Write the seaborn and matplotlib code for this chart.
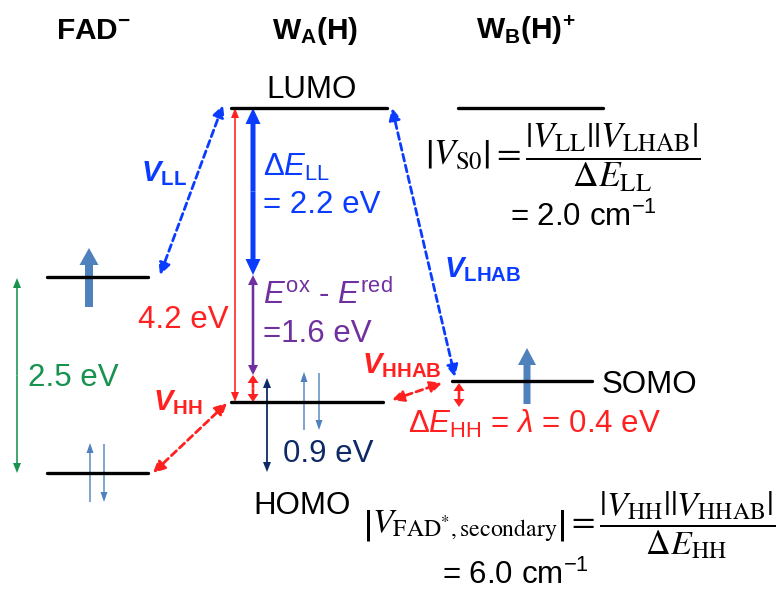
import matplotlib
matplotlib.use("Agg")
import matplotlib.pyplot as plt
import pandas as pd
import seaborn as sns

sns.set_theme(style="white")
plt.rcParams["font.family"] = ["Liberation Sans", "DejaVu Sans"]
plt.rcParams["text.color"] = "black"
plt.rcParams["mathtext.fontset"] = "custom"
plt.rcParams["mathtext.rm"] = "Liberation Sans"
plt.rcParams["mathtext.it"] = "Liberation Sans:italic"
plt.rcParams["mathtext.bf"] = "Liberation Sans:bold"

# colours
BLUE = "#0a3cff"
RED = "#ff2020"
PURPLE = "#7030a0"
GREEN = "#17924f"
NAVY = "#0d2a66"
SPIN = "#4f81bd"

# energy levels (pixel space of the slide)
level_name = ["FAD_up", "FAD_low", "WA_LUMO", "WA_HOMO", "WB_LUMO", "WB_SOMO"]
level_x0 = [47, 47, 231, 231, 458, 452]
level_x1 = [148, 148, 387, 383, 603, 592]
level_y = [277, 473, 108, 402, 108, 381]

# vertical energy-gap double arrows
gap_x = [17, 235, 253, 253, 253, 267, 459]
gap_top = [278, 108, 108, 275, 375, 378, 383]
gap_bot = [473, 402, 275, 375, 402, 472, 407]
gap_col = [GREEN, RED, BLUE, PURPLE, RED, NAVY, RED]
gap_w = [1.6, 1.6, 5, 2.6, 2.6, 1.8, 2.6]
gap_hw = [8, 8, 15, 10, 11, 8, 11]
gap_hl = [10, 10, 16, 10, 8, 10, 8]

# electron spins
spin_x = [89, 90, 104, 304, 319, 527]
spin_y0 = [307, 502, 444, 430, 373, 404]
spin_y1 = [248, 443, 502, 372, 430, 348]
spin_w = [8, 1.4, 1.4, 1.4, 1.4, 7]
spin_hw = [19, 7, 7, 7, 7, 18]
spin_hl = [17, 10, 10, 10, 10, 17]

# couplings (dashed double arrows)
coup_xa = [160, 392, 153, 392]
coup_ya = [275, 108, 473, 400]
coup_xb = [223, 455, 227, 442]
coup_yb = [105, 377, 403, 383]
coup_col = [BLUE, BLUE, RED, RED]

fig = plt.figure(figsize=(7.84, 5.90), dpi=100)
ax = fig.add_axes([0, 0, 1, 1])

lev = pd.DataFrame({
    "level": level_name * 2,
    "x": level_x0 + level_x1,
    "y": level_y * 2,
})
sns.lineplot(data=lev, x="x", y="y", units="level", estimator=None,
             color="black", lw=2.4, ax=ax, legend=False)
ax.set_xlim(0, 784)
ax.set_ylim(590, 0)
ax.axis("off")

for x, t, b, c, w, hw, hl in zip(gap_x, gap_top, gap_bot, gap_col, gap_w, gap_hw, gap_hl):
    m = (t + b) / 2
    for end in (t, b):
        ax.arrow(x, m, 0, end - m, width=w, head_width=hw, head_length=hl,
                 length_includes_head=True, color=c, lw=0)

for x, y0, y1, w, hw, hl in zip(spin_x, spin_y0, spin_y1, spin_w, spin_hw, spin_hl):
    ax.arrow(x, y0, 0, y1 - y0, width=w, head_width=hw, head_length=hl,
             length_includes_head=True, color=SPIN, lw=0)

for xa, ya, xb, yb, c in zip(coup_xa, coup_ya, coup_xb, coup_yb, coup_col):
    ax.annotate("", xy=(xb, yb), xytext=(xa, ya),
                arrowprops=dict(arrowstyle="<|-|>,head_length=0.5,head_width=0.25",
                                mutation_scale=14, color=c, lw=2, ls=(0, (2.5, 1.5)),
                                shrinkA=0, shrinkB=0))

fs = 22.5
# headers
ax.text(94, 39, r"FAD$^{\mathbf{-}}$", fontsize=21.5, fontweight="bold", ha="center", va="baseline")
ax.text(315, 39, r"W$_{\mathbf{A}}$(H)", fontsize=21.5, fontweight="bold", ha="center", va="baseline")
ax.text(526, 39, r"W$_{\mathbf{B}}$(H)$^{\mathbf{+}}$", fontsize=21.5, fontweight="bold", ha="center", va="baseline")

ax.text(312, 98, "LUMO", fontsize=fs, ha="center", va="baseline")
ax.text(302, 514, "HOMO", fontsize=fs, ha="center", va="baseline")
ax.text(602, 393, "SOMO", fontsize=fs, ha="left", va="baseline")

ax.text(28, 386, "2.5 eV", fontsize=fs, color=GREEN, va="baseline")
ax.text(229, 328, "4.2 eV", fontsize=fs, color=RED, ha="right", va="baseline")
ax.text(263, 176, r"Δ$\mathit{E}_{\mathrm{LL}}$", fontsize=fs, color=BLUE, va="baseline")
ax.text(263, 213, "= 2.2 eV", fontsize=fs, color=BLUE, va="baseline")
ax.text(263, 304, r"$\mathit{E}^{\mathrm{ox}}$ - $\mathit{E}^{\mathrm{red}}$", fontsize=fs,
        color=PURPLE, va="baseline")
ax.text(263, 342, "=1.6 eV", fontsize=fs, color=PURPLE, va="baseline")
ax.text(283, 462, "0.9 eV", fontsize=fs, color=NAVY, va="baseline")
ax.text(408, 433, r"Δ$\mathit{E}_{\mathrm{HH}}$ = $\mathit{\lambda}$ = 0.4 eV", fontsize=fs,
        color=RED, va="baseline")

# coupling labels
for x, y, sub, c in [(141, 181, "LL", BLUE), (444, 277, "LHAB", BLUE),
                     (153, 410, "HH", RED), (362, 373, "HHAB", RED)]:
    ax.text(x, y, "V" + r"$_{\mathbf{" + sub + "}}$", fontsize=21, fontweight="bold",
            fontstyle="italic", color=c, va="baseline")

# formulas
ax.text(425, 158, r"$\left|V_{\mathrm{S0}}\right| = \dfrac{|V_{\mathrm{LL}}||V_{\mathrm{LHAB}}|}{\Delta E_{\mathrm{LL}}}$",
        fontsize=25.5, math_fontfamily="stix", ha="left", va="center")
ax.text(510, 226, r"= 2.0 cm$^{\mathrm{-1}}$", fontsize=fs, va="baseline")
ax.text(363, 525, r"$\left|V_{\mathrm{FAD^{*},secondary}}\right| = \dfrac{|V_{\mathrm{HH}}||V_{\mathrm{HHAB}}|}{\Delta E_{\mathrm{HH}}}$",
        fontsize=24.5, math_fontfamily="stix", ha="left", va="center")
ax.text(442, 584, r"= 6.0 cm$^{\mathrm{-1}}$", fontsize=fs, va="baseline")

fig.savefig("out.png", dpi=100)
